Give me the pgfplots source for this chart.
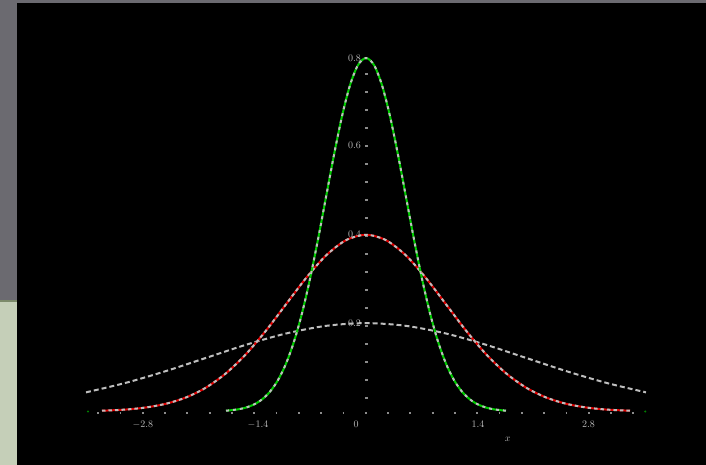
\documentclass[border=0pt]{standalone}
\usepackage{pgfplots}
\pgfplotsset{compat=1.18}
\definecolor{leftgray}{RGB}{107,106,112}
\definecolor{leftgreen}{RGB}{197,207,184}
\definecolor{divline}{RGB}{124,138,106}
\definecolor{cgreen}{RGB}{0,205,0}
\definecolor{cred}{RGB}{225,0,0}
\definecolor{cgray}{RGB}{190,190,190}
\definecolor{dgray}{RGB}{140,140,140}
\begin{document}
\begin{tikzpicture}[x=1pt,y=1pt]
\useasboundingbox (0,0) rectangle (706,465);
\fill[black] (0,0) rectangle (706,465);
\fill[leftgray] (0,165) rectangle (17,465);
\fill[divline] (0,162.5) rectangle (17,165);
\fill[leftgreen] (0,0) rectangle (17,162.5);
\fill[leftgray] (0,462) rectangle (706,465);
\begin{axis}[at={(0,0)}, anchor=south west, scale only axis,
  width=706pt, height=465pt,
  xmin=-4.575, xmax=4.25, ymin=-0.1208, ymax=0.9289,
  hide axis, clip=false]
% dotted axes
\draw[dgray, line width=1.8pt, dash pattern=on 1.8pt off 20.5pt] (axis cs:-3.36,-0.004) -- (axis cs:3.45,-0.004);
\draw[dgray, line width=3pt, dash pattern=on 1.8pt off 16.2pt] (axis cs:0,0.764) -- (axis cs:0,0.01);
\fill[green!50!black] (axis cs:-3.475,0) circle (1.2pt);
\fill[green!50!black] (axis cs:3.49,0) circle (1.2pt);
% gray wide curve
\addplot[cgray, line width=2pt, dash pattern=on 5pt off 3pt, smooth] coordinates {
(-3.5,0.0432) (-3.0,0.0648) (-2.5,0.0913) (-2.0,0.1210) (-1.5,0.1506) (-1.0,0.1760) (-0.5,0.1933) (0,0.1995)
(0.5,0.1933) (1.0,0.1760) (1.5,0.1506) (2.0,0.1210) (2.5,0.0913) (3.0,0.0648) (3.5,0.0432)};
% red medium curve
\pgfplotstableread{
x y
-3.3 0.0017
-3.0 0.0044
-2.75 0.0091
-2.5 0.0175
-2.25 0.0317
-2.0 0.0540
-1.75 0.0863
-1.5 0.1295
-1.25 0.1826
-1.0 0.2420
-0.75 0.3011
-0.5 0.3521
-0.25 0.3867
0 0.3989
0.25 0.3867
0.5 0.3521
0.75 0.3011
1.0 0.2420
1.25 0.1826
1.5 0.1295
1.75 0.0863
2.0 0.0540
2.25 0.0317
2.5 0.0175
2.75 0.0091
3.0 0.0044
3.3 0.0017
}\redtab
\addplot[cred, line width=2pt, smooth] table {\redtab};
\addplot[cgray, line width=2pt, dash pattern=on 3.5pt off 3pt, smooth] table {\redtab};
% green narrow curve
\pgfplotstableread{
x y
-1.75 0.0017
-1.6 0.0048
-1.5 0.0089
-1.4 0.0158
-1.3 0.0272
-1.2 0.0448
-1.1 0.0709
-1.0 0.1080
-0.9 0.1579
-0.8 0.2218
-0.7 0.2995
-0.6 0.3884
-0.5 0.4839
-0.4 0.5794
-0.3 0.6665
-0.2 0.7366
-0.1 0.7821
0 0.7979
0.1 0.7821
0.2 0.7366
0.3 0.6665
0.4 0.5794
0.5 0.4839
0.6 0.3884
0.7 0.2995
0.8 0.2218
0.9 0.1579
1.0 0.1080
1.1 0.0709
1.2 0.0448
1.3 0.0272
1.4 0.0158
1.5 0.0089
1.6 0.0048
1.75 0.0017
}\greentab
\addplot[cgreen, line width=2pt, smooth] table {\greentab};
\addplot[cgray, line width=2pt, dash pattern=on 3pt off 4pt, smooth] table {\greentab};
% labels
\begin{scope}[every node/.style={text=cgray, font=\fontsize{10}{11}\selectfont, inner sep=1pt}]
\node[anchor=east] at (axis cs:-0.05,0.798) {0.8};
\node[anchor=east] at (axis cs:-0.05,0.600) {0.6};
\node[anchor=east] at (axis cs:-0.05,0.400) {0.4};
\node[anchor=east] at (axis cs:-0.05,0.200) {0.2};
\node[anchor=north] at (axis cs:-2.79,-0.018) {$-2.8$};
\node[anchor=north] at (axis cs:-1.35,-0.018) {$-1.4$};
\node[anchor=north] at (axis cs:-0.125,-0.018) {0};
\node[anchor=north] at (axis cs:1.40,-0.018) {1.4};
\node[anchor=north] at (axis cs:2.78,-0.018) {2.8};
\node[anchor=north] at (axis cs:1.77,-0.055) {$x$};
\end{scope}
\end{axis}
\end{tikzpicture}
\end{document}
